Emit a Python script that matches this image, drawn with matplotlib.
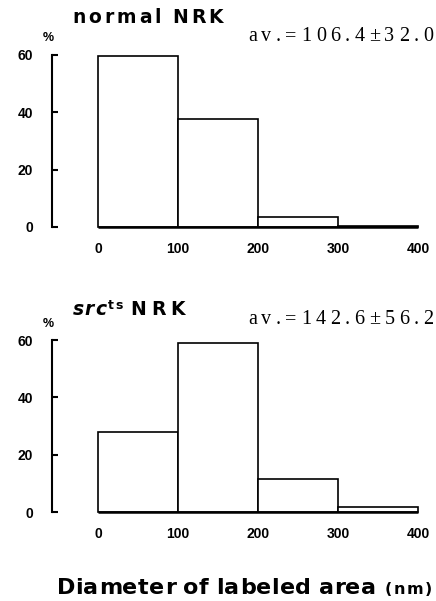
import matplotlib.pyplot as plt
import numpy as np

bin_edges = [0, 100, 200, 300, 400]
normal_pct = [59.5, 37.7, 3.4, 0.3]
src_pct = [28.0, 59.0, 11.5, 1.7]
y_ticks = [0, 20, 40, 60]
x_ticks = [0, 100, 200, 300, 400]

W, H = 436, 601
SANS = ['Liberation Sans', 'DejaVu Sans']
WIDE = ['DejaVu Sans']
SERIF = ['Liberation Serif', 'DejaVu Serif']
plt.rcParams['font.family'] = SANS

fig = plt.figure(figsize=(W / 100, H / 100), dpi=100)
fig.canvas.draw()
renderer = fig.canvas.get_renderer()


def spread_text(x0, x1, y, s, space=0.25, **kw):
    """Draw s char by char (baseline y, pixels from top) so it spans x0..x1."""
    texts, widths = [], []
    for ch in s:
        t = fig.text(0, 1 - y / H, ch, va='baseline', ha='left', **kw)
        if ch == ' ':
            w = space * t.get_fontsize() * 100 / 72
        else:
            w = t.get_window_extent(renderer).width
        texts.append(t)
        widths.append(w)
    n_gaps = max(len(s) - 1, 1)
    gap = (x1 - x0 - sum(widths)) / n_gaps
    x = x0
    for t, w in zip(texts, widths):
        t.set_x(x / W)
        x += w + gap
    return texts


def panel(y0_px, y60_px, values):
    left = 52 / W
    right = 425 / W
    bottom = 1 - y0_px / H
    top = 1 - y60_px / H
    ax = fig.add_axes([left, bottom, right - left, top - bottom])
    edges = np.array(bin_edges)
    ax.bar(edges[:-1], values, width=np.diff(edges), align='edge',
           facecolor='white', edgecolor='black', linewidth=1.2, clip_on=False)
    ax.plot([edges[0], edges[-1]], [0, 0], color='black', lw=1.8,
            solid_capstyle='butt', clip_on=False)
    ax.set_xlim(-57.5, 408.75)
    ax.set_ylim(0, 60)
    for s in ['top', 'right', 'bottom']:
        ax.spines[s].set_visible(False)
    ax.spines['left'].set_linewidth(1.5)
    ax.spines['left'].set_bounds(0, 60)
    ax.set_yticks(y_ticks)
    ax.set_xticks(x_ticks)
    ax.tick_params(axis='y', direction='in', length=4, width=1.5, pad=13.5,
                   labelsize=10)
    ax.tick_params(axis='x', length=0, pad=10.8, labelsize=10)
    for lab in ax.get_yticklabels() + ax.get_xticklabels():
        lab.set_fontweight('bold')
    return ax


panel(227, 55, normal_pct)
panel(512, 340, src_pct)

# titles
spread_text(72, 223, 23.3, 'normal NRK', family=WIDE, fontsize=13.5,
            fontweight='bold', space=0.3)
spread_text(72.5, 106.5, 315.3, 'src', family=WIDE, fontsize=13.5,
            fontweight='bold', fontstyle='italic')
spread_text(108, 123, 309, 'ts', family=WIDE, fontsize=9, fontweight='bold')
spread_text(130.5, 185, 315.3, 'NRK', family=WIDE, fontsize=13.5,
            fontweight='bold')

# percent signs
fig.text(48.5 / W, 1 - 38 / H, '%', fontsize=9, fontweight='bold',
         ha='center', va='center')
fig.text(48.5 / W, 1 - 324 / H, '%', fontsize=9, fontweight='bold',
         ha='center', va='center')

# averages
spread_text(248, 433, 40.7, 'av.=106.4\u00b132.0', family=SERIF, fontsize=14.5)
spread_text(248, 433, 324.5, 'av.=142.6\u00b156.2', family=SERIF, fontsize=14.5)

# x label
spread_text(56.5, 376, 594, 'Diameter of labeled area', family=WIDE,
            fontsize=16, fontweight='bold', space=0.3)
spread_text(385, 431.5, 594, '(nm)', family=WIDE, fontsize=11.5,
            fontweight='bold')

fig.savefig('out.png', dpi=100)
